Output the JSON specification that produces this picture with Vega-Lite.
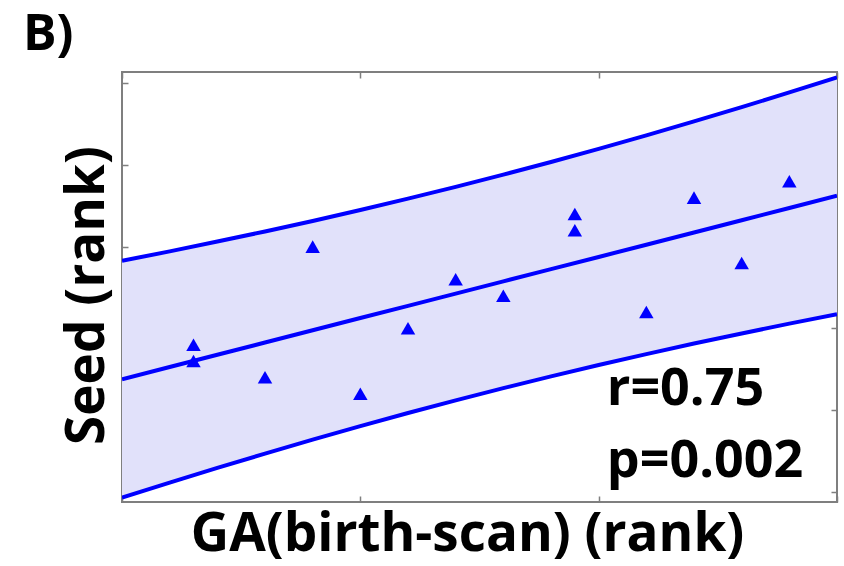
{
  "$schema": "https://vega.github.io/schema/vega-lite/v6.json",
  "width": 715,
  "height": 430,
  "autosize": "none",
  "padding": {"left": 122, "top": 72, "right": 7, "bottom": 64},
  "background": "white",
  "title": {
    "text": "B)",
    "anchor": "start",
    "frame": "group",
    "dx": -99,
    "dy": 54,
    "offset": 25,
    "baseline": "alphabetic",
    "font": "Open Sans",
    "fontSize": 50,
    "fontWeight": "bold",
    "color": "black"
  },
  "config": {
    "view": {"stroke": "#7f7f7f", "strokeWidth": 2},
    "axis": {
      "grid": false,
      "domain": false,
      "labels": false,
      "tickColor": "#7f7f7f",
      "tickWidth": 1.5,
      "tickSize": -6,
      "titleFont": "Open Sans",
      "titleFontWeight": "bold",
      "titleFontSize": 53,
      "titleColor": "black"
    }
  },
  "datasets": {
    "band": [
      {"ga": 0, "fit": 1.887, "lo": -5.362, "hi": 9.136},
      {"ga": 1, "fit": 2.635, "lo": -4.442, "hi": 9.712},
      {"ga": 2, "fit": 3.384, "lo": -3.543, "hi": 10.311},
      {"ga": 3, "fit": 4.132, "lo": -2.667, "hi": 10.931},
      {"ga": 4, "fit": 4.880, "lo": -1.814, "hi": 11.574},
      {"ga": 5, "fit": 5.629, "lo": -0.986, "hi": 12.244},
      {"ga": 6, "fit": 6.377, "lo": -0.185, "hi": 12.939},
      {"ga": 7, "fit": 7.125, "lo": 0.590, "hi": 13.660},
      {"ga": 8, "fit": 7.874, "lo": 1.339, "hi": 14.409},
      {"ga": 9, "fit": 8.622, "lo": 2.060, "hi": 15.184},
      {"ga": 10, "fit": 9.370, "lo": 2.755, "hi": 15.985},
      {"ga": 11, "fit": 10.118, "lo": 3.424, "hi": 16.812},
      {"ga": 12, "fit": 10.867, "lo": 4.068, "hi": 17.666},
      {"ga": 13, "fit": 11.615, "lo": 4.688, "hi": 18.542},
      {"ga": 14, "fit": 12.363, "lo": 5.286, "hi": 19.440},
      {"ga": 15, "fit": 13.112, "lo": 5.863, "hi": 20.361}
    ],
    "subjects": [
      {"ga": 1.5, "seed": 4},
      {"ga": 1.5, "seed": 3},
      {"ga": 3, "seed": 2},
      {"ga": 4, "seed": 10},
      {"ga": 5, "seed": 1},
      {"ga": 6, "seed": 5},
      {"ga": 7, "seed": 8},
      {"ga": 8, "seed": 7},
      {"ga": 9.5, "seed": 12},
      {"ga": 9.5, "seed": 11},
      {"ga": 11, "seed": 6},
      {"ga": 12, "seed": 13},
      {"ga": 13, "seed": 9},
      {"ga": 14, "seed": 14}
    ],
    "stats": [
      {"ga": 10.17, "seed": 0.3, "label": "r=0.75"},
      {"ga": 10.17, "seed": -4.1, "label": "p=0.002"}
    ]
  },
  "layer": [
    {
      "data": {"name": "band"},
      "mark": {"type": "area", "color": "#E1E1FA", "clip": true},
      "encoding": {
        "x": {
          "field": "ga", "type": "quantitative",
          "scale": {"domain": [0, 15], "nice": false, "zero": false},
          "axis": {"orient": "bottom", "values": [0, 5, 10, 15],
                   "title": "GA(birth-scan) (rank)",
                   "titleX": 345, "titleY": 48, "titleAlign": "center", "titleBaseline": "alphabetic"}
        },
        "y": {
          "field": "lo", "type": "quantitative",
          "scale": {"domain": [-5.63, 20.69], "nice": false, "zero": false},
          "axis": {"orient": "left", "values": [-5, 0, 5, 10, 15, 20],
                   "title": "Seed (rank)",
                   "titleX": -19, "titleY": 223, "titleAngle": -90, "titleAlign": "center", "titleBaseline": "alphabetic"}
        },
        "y2": {"field": "hi"}
      }
    },
    {
      "data": {"name": "band"},
      "mark": {"type": "line", "color": "#0000FF", "strokeWidth": 4, "clip": true},
      "encoding": {
        "x": {"field": "ga", "type": "quantitative",
              "axis": {"orient": "top", "values": [0, 5, 10, 15], "title": null}},
        "y": {"field": "hi", "type": "quantitative",
              "axis": {"orient": "right", "values": [-5, 0, 5, 10, 15, 20], "title": null}}
      }
    },
    {
      "data": {"name": "band"},
      "mark": {"type": "line", "color": "#0000FF", "strokeWidth": 4, "clip": true},
      "encoding": {
        "x": {"field": "ga", "type": "quantitative", "axis": null},
        "y": {"field": "fit", "type": "quantitative", "axis": null}
      }
    },
    {
      "data": {"name": "band"},
      "mark": {"type": "line", "color": "#0000FF", "strokeWidth": 4, "clip": true},
      "encoding": {
        "x": {"field": "ga", "type": "quantitative", "axis": null},
        "y": {"field": "lo", "type": "quantitative", "axis": null}
      }
    },
    {
      "data": {"name": "subjects"},
      "mark": {"type": "point", "shape": "triangle-up", "filled": true, "color": "#0000FF", "opacity": 1, "size": 210},
      "encoding": {
        "x": {"field": "ga", "type": "quantitative", "axis": null},
        "y": {"field": "seed", "type": "quantitative", "axis": null}
      }
    },
    {
      "data": {"name": "stats"},
      "mark": {"type": "text", "align": "left", "baseline": "alphabetic", "font": "Open Sans", "fontWeight": "bold", "fontSize": 52, "color": "black"},
      "encoding": {
        "x": {"field": "ga", "type": "quantitative", "axis": null},
        "y": {"field": "seed", "type": "quantitative", "axis": null},
        "text": {"field": "label"}
      }
    }
  ]
}
